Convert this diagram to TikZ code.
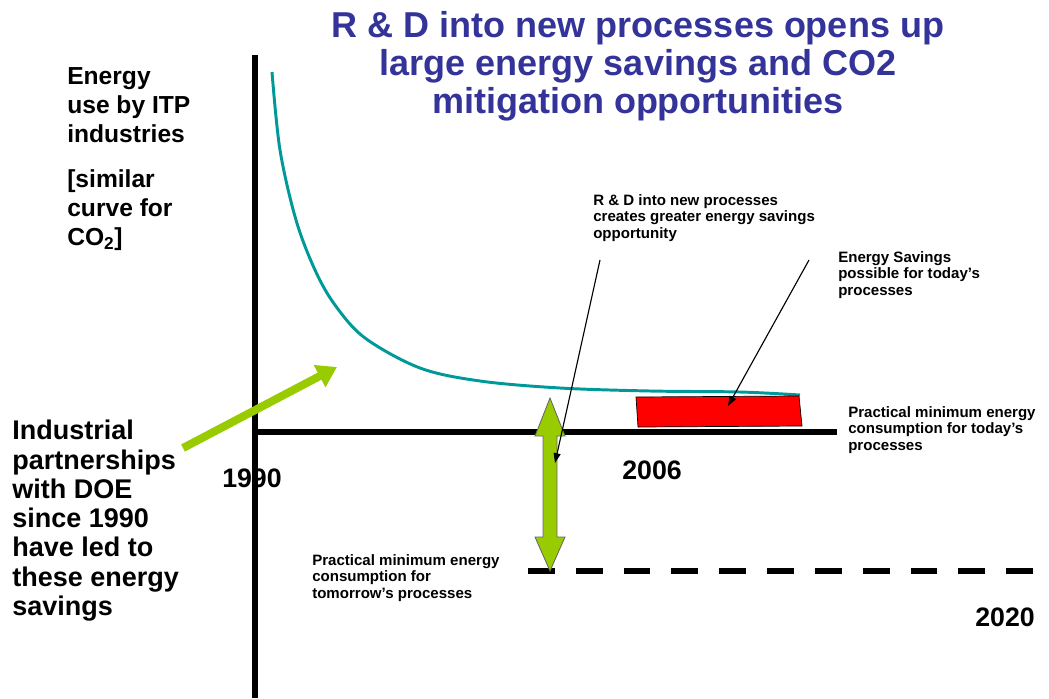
\documentclass[tikz,border=0pt]{standalone}
\usepackage{fontspec}
\setmainfont{Liberation Sans}
\usetikzlibrary{arrows.meta}
\definecolor{titleblue}{RGB}{51, 51, 153}
\definecolor{curveteal}{RGB}{0, 153, 153}
\definecolor{doegreen}{RGB}{153, 204, 0}

\begin{document}
\begin{tikzpicture}[
  x=0.025cm, y=-0.025cm,
  bigtxt/.style={anchor=north west, inner sep=0pt, align=left, font=\bfseries\fontsize{17.5}{20.6}\selectfont},
  smalltxt/.style={anchor=north west, inner sep=0pt, align=left, font=\bfseries\fontsize{10.7}{11.8}\selectfont},
  yeartxt/.style={anchor=north west, inner sep=0pt, font=\bfseries\fontsize{19}{22}\selectfont},
  callout/.style={line width=0.8pt, -{Triangle[length=7pt, width=5pt]}}
]
  \useasboundingbox (0,0) rectangle (1049,698);

  % title
  \node[anchor=north, inner sep=0pt, align=center, text=titleblue,
        font=\bfseries\fontsize{25.6}{27}\selectfont] (title) at (638,11)
    {R \& D into new processes opens up\\large energy savings and CO2\\mitigation opportunities};

  % labels
  \node[bigtxt] (ylabel) at (67,67)
    {Energy\\use by ITP\\industries\\[12pt][similar\\curve for\\CO\textsubscript{2}]};
  \node[bigtxt, font=\bfseries\fontsize{19.2}{20.8}\selectfont] (partners) at (12,420)
    {Industrial\\partnerships\\with DOE\\since 1990\\have led to\\these energy\\savings};
  \node[yeartxt] (y1990) at (222,469) {1990};
  \node[yeartxt] (y2006) at (622,461) {2006};
  \node[yeartxt] (y2020) at (975,608) {2020};

  \node[smalltxt] (rdnote) at (593,194)
    {R \& D into new processes\\creates greater energy savings\\opportunity};
  \node[smalltxt] (savenote) at (838,251)
    {Energy Savings\\possible for today’s\\processes};
  \node[smalltxt] (todaynote) at (848,406)
    {Practical minimum energy\\consumption for today’s\\processes};
  \node[smalltxt] (tomorrownote) at (312,554)
    {Practical minimum energy\\consumption for\\tomorrow’s processes};

  % axes and floors
  \coordinate (origin) at (255,432);
  \draw[line width=4.2pt] (255,55) -- (255,698);
  \draw[line width=3.6pt] (origin) -- (837,432);
  \draw[line width=4.2pt, dash pattern=on 19.1pt off 14.9pt] (528,571) -- (1035,571);

  % energy use curve
  \draw[curveteal, line width=2.1pt] plot[smooth, tension=0.55] coordinates
    {(272,72) (280,150) (296,220) (315,270) (335,305) (365,338) (420,368)
     (480,381) (560,388) (650,391) (740,392) (800,395)};

  % savings today
  \filldraw[fill=red, draw=black, line width=0.5pt]
    (636,397) -- (799,396) -- (802,426) -- (638,427) -- cycle;

  % savings tomorrow
  \filldraw[fill=doegreen, draw=black!60, line width=0.6pt]
    (550,398) -- (565,436) -- (557,436) -- (557,537) -- (565,537) -- (550,571)
    -- (535,537) -- (543,537) -- (543,436) -- (535,436) -- cycle;

  % arrows
  \coordinate (gtail) at (183,448);
  \coordinate (ghead) at (337,367);
  \draw[doegreen, line width=5.7pt, -{Triangle[length=14pt, width=17pt]}] (gtail) -- (ghead);

  \coordinate (rdfrom) at (600,260);
  \coordinate (rdto) at (555,463);
  \draw[callout] (rdfrom) -- (rdto);
  \coordinate (savefrom) at (809,260);
  \coordinate (saveto) at (728,406);
  \draw[callout] (savefrom) -- (saveto);
\end{tikzpicture}
\end{document}
